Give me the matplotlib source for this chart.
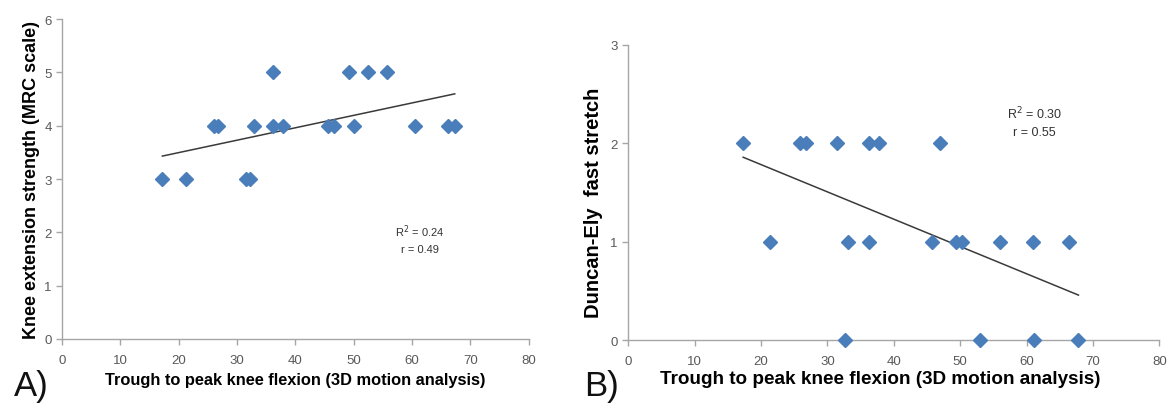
import numpy as np
import matplotlib.pyplot as plt

# panel A: knee extension strength vs trough-to-peak knee flexion
flex_a = [17.2, 21.3, 31.6, 32.2,
          26.1, 26.7, 32.9, 36.1, 37.8, 45.6, 46.6, 50.1, 60.5, 66.1, 67.3,
          36.1, 49.2, 52.5, 55.7]
mrc_a = [3, 3, 3, 3,
         4, 4, 4, 4, 4, 4, 4, 4, 4, 4, 4,
         5, 5, 5, 5]

# panel B: Duncan-Ely fast stretch vs trough-to-peak knee flexion
flex_b = [17.3, 25.8, 26.8, 31.5, 36.2, 37.8, 47.0,
          21.3, 33.1, 36.3, 45.8, 49.4, 50.3, 56.0, 60.9, 66.4,
          32.6, 52.9, 61.1, 67.8]
de_b = [2, 2, 2, 2, 2, 2, 2,
        1, 1, 1, 1, 1, 1, 1, 1, 1,
        0, 0, 0, 0]

stats_a = ['R$^2$ = 0.24', 'r = 0.49']
stats_b = ['R$^2$ = 0.30', 'r = 0.55']

blue = '#4A7EBB'
grey = '#A6A6A6'
tick_col = '#595959'

plt.rcParams['font.family'] = ['Liberation Sans', 'DejaVu Sans']

fig = plt.figure(figsize=(11.7, 4.06), dpi=100)
axA = fig.add_axes([0.053, 0.1626, 0.399, 0.788])
axB = fig.add_axes([0.537, 0.160, 0.454, 0.727])


def style(ax, xmax, ymax):
    ax.set_xlim(0, xmax)
    ax.set_ylim(0, ymax)
    for s in ['top', 'right']:
        ax.spines[s].set_visible(False)
    for s in ['left', 'bottom']:
        ax.spines[s].set_color(grey)
        ax.spines[s].set_linewidth(1.0)
    ax.tick_params(direction='out', length=4, width=1, color=grey,
                   labelcolor=tick_col, labelsize=9.5)
    ax.set_xticks(np.arange(0, xmax + 1, 10))
    ax.set_yticks(np.arange(0, ymax + 1, 1))
    ax.tick_params(axis='x', pad=7)


def trend(ax, x, y):
    x = np.array(x)
    y = np.array(y)
    m, c = np.polyfit(x, y, 1)
    xs = np.array([x.min(), x.max()])
    ax.plot(xs, m * xs + c, color='#3a3a3a', lw=1.1, zorder=2)


# A
axA.plot(flex_a, mrc_a, 'D', color=blue, markersize=7, zorder=3, clip_on=False)
trend(axA, flex_a, mrc_a)
style(axA, 80, 6)
axA.set_xlabel('Trough to peak knee flexion (3D motion analysis)',
               fontsize=11.8, fontweight='bold', labelpad=4)
axA.set_ylabel('Knee extension strength (MRC scale)',
               fontsize=13, fontweight='bold', labelpad=3)
axA.text(61.3, 2.03, stats_a[0], ha='center', va='center', fontsize=8, color='#333333')
axA.text(61.3, 1.69, stats_a[1], ha='center', va='center', fontsize=8, color='#333333')

# B
axB.plot(flex_b, de_b, 'D', color=blue, markersize=7, zorder=3, clip_on=False)
trend(axB, flex_b, de_b)
style(axB, 80, 3)
axB.set_xlabel('Trough to peak knee flexion (3D motion analysis)',
               fontsize=13.6, fontweight='bold', labelpad=2)
axB.xaxis.set_label_coords(0.475, -0.1)
axB.set_ylabel('Duncan-Ely  fast stretch', fontsize=14.5, fontweight='bold', labelpad=6)
axB.yaxis.set_label_coords(-0.048, 0.47)
axB.text(61.2, 2.31, stats_b[0], ha='center', va='center', fontsize=9, color='#333333')
axB.text(61.2, 2.11, stats_b[1], ha='center', va='center', fontsize=9, color='#333333')

fig.text(0.012, 0.025, 'A)', fontsize=25, color='#111111')
fig.text(0.499, 0.025, 'B)', fontsize=25, color='#111111')

fig.savefig('out.png', dpi=100)
